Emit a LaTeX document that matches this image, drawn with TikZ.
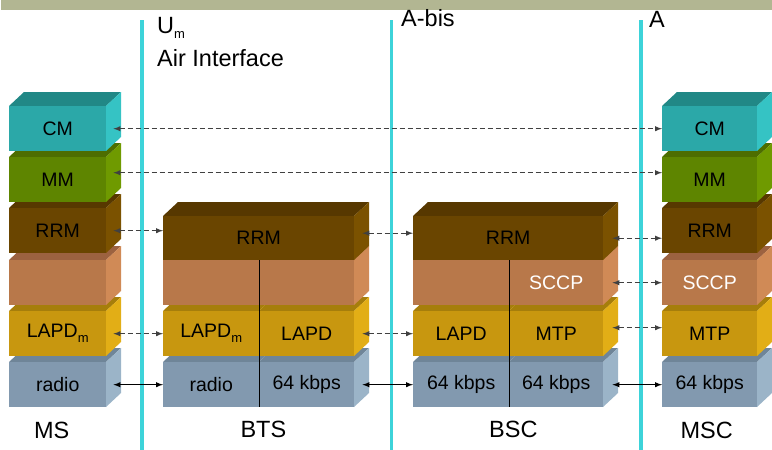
\documentclass[tikz,border=0pt]{standalone}
\usepackage{fontspec}
\setmainfont{Liberation Sans}
\usetikzlibrary{positioning}

\definecolor{barC}{HTML}{B2B692}
\definecolor{ifC}{HTML}{3DD3D9}
\definecolor{cmF}{HTML}{2BA8A8}\definecolor{cmT}{HTML}{218886}\definecolor{cmS}{HTML}{35C3C4}
\definecolor{mmF}{HTML}{5E8500}\definecolor{mmT}{HTML}{4D6D00}\definecolor{mmS}{HTML}{6F9A00}
\definecolor{rrF}{HTML}{6A4500}\definecolor{rrT}{HTML}{573800}\definecolor{rrS}{HTML}{7B5200}
\definecolor{scF}{HTML}{B8784A}\definecolor{scT}{HTML}{9C6240}\definecolor{scS}{HTML}{D08A56}
\definecolor{ldF}{HTML}{C8970F}\definecolor{ldT}{HTML}{A67E0B}\definecolor{ldS}{HTML}{E2AE16}
\definecolor{phF}{HTML}{8299AF}\definecolor{phT}{HTML}{6F8598}\definecolor{phS}{HTML}{9BB4C8}

\newcommand{\boxfont}{\fontsize{19.5}{22}\selectfont}
\newcommand{\bigfont}{\fontsize{23.5}{27}\selectfont}
\newcommand{\subm}[1]{\raisebox{-0.25em}{\fontsize{13}{13}\selectfont #1}}

\tikzstyle{layer}=[anchor=north west,inner sep=0pt,font=\boxfont,text=black]
\tikzstyle{iline}=[draw=ifC,line width=3.5pt]
\tikzstyle{iface}=[anchor=base west,inner sep=0pt,font=\bigfont]
\tikzstyle{stack}=[inner sep=0pt,font=\bigfont]
\tikzstyle{peer}=[<->,draw=black!75,line width=1.4pt,dash pattern=on 5pt off 3pt]
\tikzstyle{phys}=[<->,draw=black,line width=1.4pt]
\tikzset{>=latex}

% one protocol layer: front face node plus top and side faces
% [node options]{name}{x}{y}{width}{height}{colour}{label}
\newcommand{\slab}[8][]{%
  \fill[#7T] (#3,#4) -- ++(\depx,-\depy) -- ++(#5,0) -- ++(-\depx,\depy) -- cycle;
  \fill[#7S] (#3+#5,#4) -- ++(\depx,-\depy) -- ++(0,#6) -- ++(-\depx,\depy) -- cycle;
  \node[layer,fill=#7F,minimum width=#5pt,minimum height=#6pt,#1] (#2) at (#3,#4) {#8};
}

\begin{document}
\begin{tikzpicture}[x=1pt,y=-1pt]
  \def \depx {15}
  \def \depy {14}
  \useasboundingbox (0,0) rectangle (772,450);
  \fill[barC] (1,0) rectangle (772,10);

  % Interfaces
  \draw[iline] (142,20) -- (142,450);
  \draw[iline] (391.5,20) -- (391.5,450);
  \draw[iline] (641,20) -- (641,450);
  \node[iface] (um) at (157,33) {U\subm{m}};
  \node[iface] (air) at (157,66) {Air Interface};
  \node[iface] (abis) at (401,26) {A-bis};
  \node[iface] (a) at (649,27) {A};

  % MS
  \slab{ms-ph}{9}{362}{97}{45}{ph}{radio}
  \slab{ms-ld}{9}{311}{97}{45}{ld}{LAPD\subm{m}}
  \slab{ms-sc}{9}{260}{97}{45}{sc}{}
  \slab{ms-rrm}{9}{208}{97}{45}{rr}{RRM}
  \slab{ms-mm}{9}{157}{97}{45}{mm}{MM}
  \slab{ms-cm}{9}{106}{97}{45}{cm}{CM}
  \node[stack,below=14pt of ms-ph,xshift=-6pt] (ms) {MS};

  % BTS
  \slab{bts-ph-l}{163}{362}{96}{45}{ph}{radio}
  \slab{bts-ph-r}{259}{362}{95}{45}{ph}{64 kbps}
  \slab{bts-ld-l}{163}{311}{96}{45}{ld}{LAPD\subm{m}}
  \slab{bts-ld-r}{259}{311}{95}{45}{ld}{LAPD}
  \slab{bts-sc-l}{163}{260}{96}{45}{sc}{}
  \slab{bts-sc-r}{259}{260}{95}{45}{sc}{}
  \slab{bts-rrm}{163}{216}{191}{44}{rr}{RRM}
  \node[stack,below=13pt of bts-ph-l.south east,xshift=4pt] (bts) {BTS};

  % BSC
  \slab{bsc-ph-l}{413}{362}{96}{45}{ph}{64 kbps}
  \slab{bsc-ph-r}{509}{362}{94}{45}{ph}{64 kbps}
  \slab{bsc-ld-l}{413}{311}{96}{45}{ld}{LAPD}
  \slab{bsc-ld-r}{509}{311}{94}{45}{ld}{MTP}
  \slab{bsc-sc-l}{413}{260}{96}{45}{sc}{}
  \slab[text=white]{bsc-sc-r}{509}{260}{94}{45}{sc}{SCCP}
  \slab{bsc-rrm}{413}{216}{190}{44}{rr}{RRM}
  \node[stack,below=13pt of bsc-ph-l.south east,xshift=4pt] (bsc) {BSC};

  % MSC
  \slab{msc-ph}{662}{362}{95}{45}{ph}{64 kbps}
  \slab{msc-ld}{662}{311}{95}{45}{ld}{MTP}
  \slab[text=white]{msc-sc}{662}{260}{95}{45}{sc}{SCCP}
  \slab{msc-rrm}{662}{208}{95}{45}{rr}{RRM}
  \slab{msc-mm}{662}{157}{95}{45}{mm}{MM}
  \slab{msc-cm}{662}{106}{95}{45}{cm}{CM}
  \node[stack,below=14pt of msc-ph,xshift=-3pt] (msc) {MSC};

  % split of the shared layers
  \draw[line width=0.8pt] (bts-sc-r.north west) -- (bts-ph-r.south west);
  \draw[line width=0.8pt] (bsc-sc-r.north west) -- (bsc-ph-r.south west);

  % peer to peer
  \draw[peer] ([xshift=7pt]ms-cm.east) -- (msc-cm.west);
  \draw[peer] ([xshift=7pt,yshift=7pt]ms-mm.east) -- ([yshift=7pt]msc-mm.west);
  \draw[peer] ([xshift=7pt]ms-rrm.east) -- (ms-rrm.east -| bts-rrm.west);
  \draw[peer] ([xshift=8pt,yshift=5pt]bts-rrm.east) -- ([yshift=5pt]bsc-rrm.west);
  \draw[peer] ([xshift=9pt]bsc-rrm.east) -- (bsc-rrm.east -| msc-rrm.west);
  \draw[peer] ([xshift=9pt]bsc-sc-r.east) -- (msc-sc.west);
  \draw[peer] ([xshift=7pt]ms-ld.east) -- (bts-ld-l.west);
  \draw[peer] ([xshift=8pt]bts-ld-r.east) -- (bsc-ld-l.west);
  \draw[peer] ([xshift=9pt,yshift=6pt]bsc-ld-r.east) -- ([yshift=6pt]msc-ld.west);
  % physical links
  \draw[phys] ([xshift=7pt]ms-ph.east) -- (bts-ph-l.west);
  \draw[phys] ([xshift=8pt]bts-ph-r.east) -- (bsc-ph-l.west);
  \draw[phys] ([xshift=9pt]bsc-ph-r.east) -- (msc-ph.west);
\end{tikzpicture}
\end{document}
